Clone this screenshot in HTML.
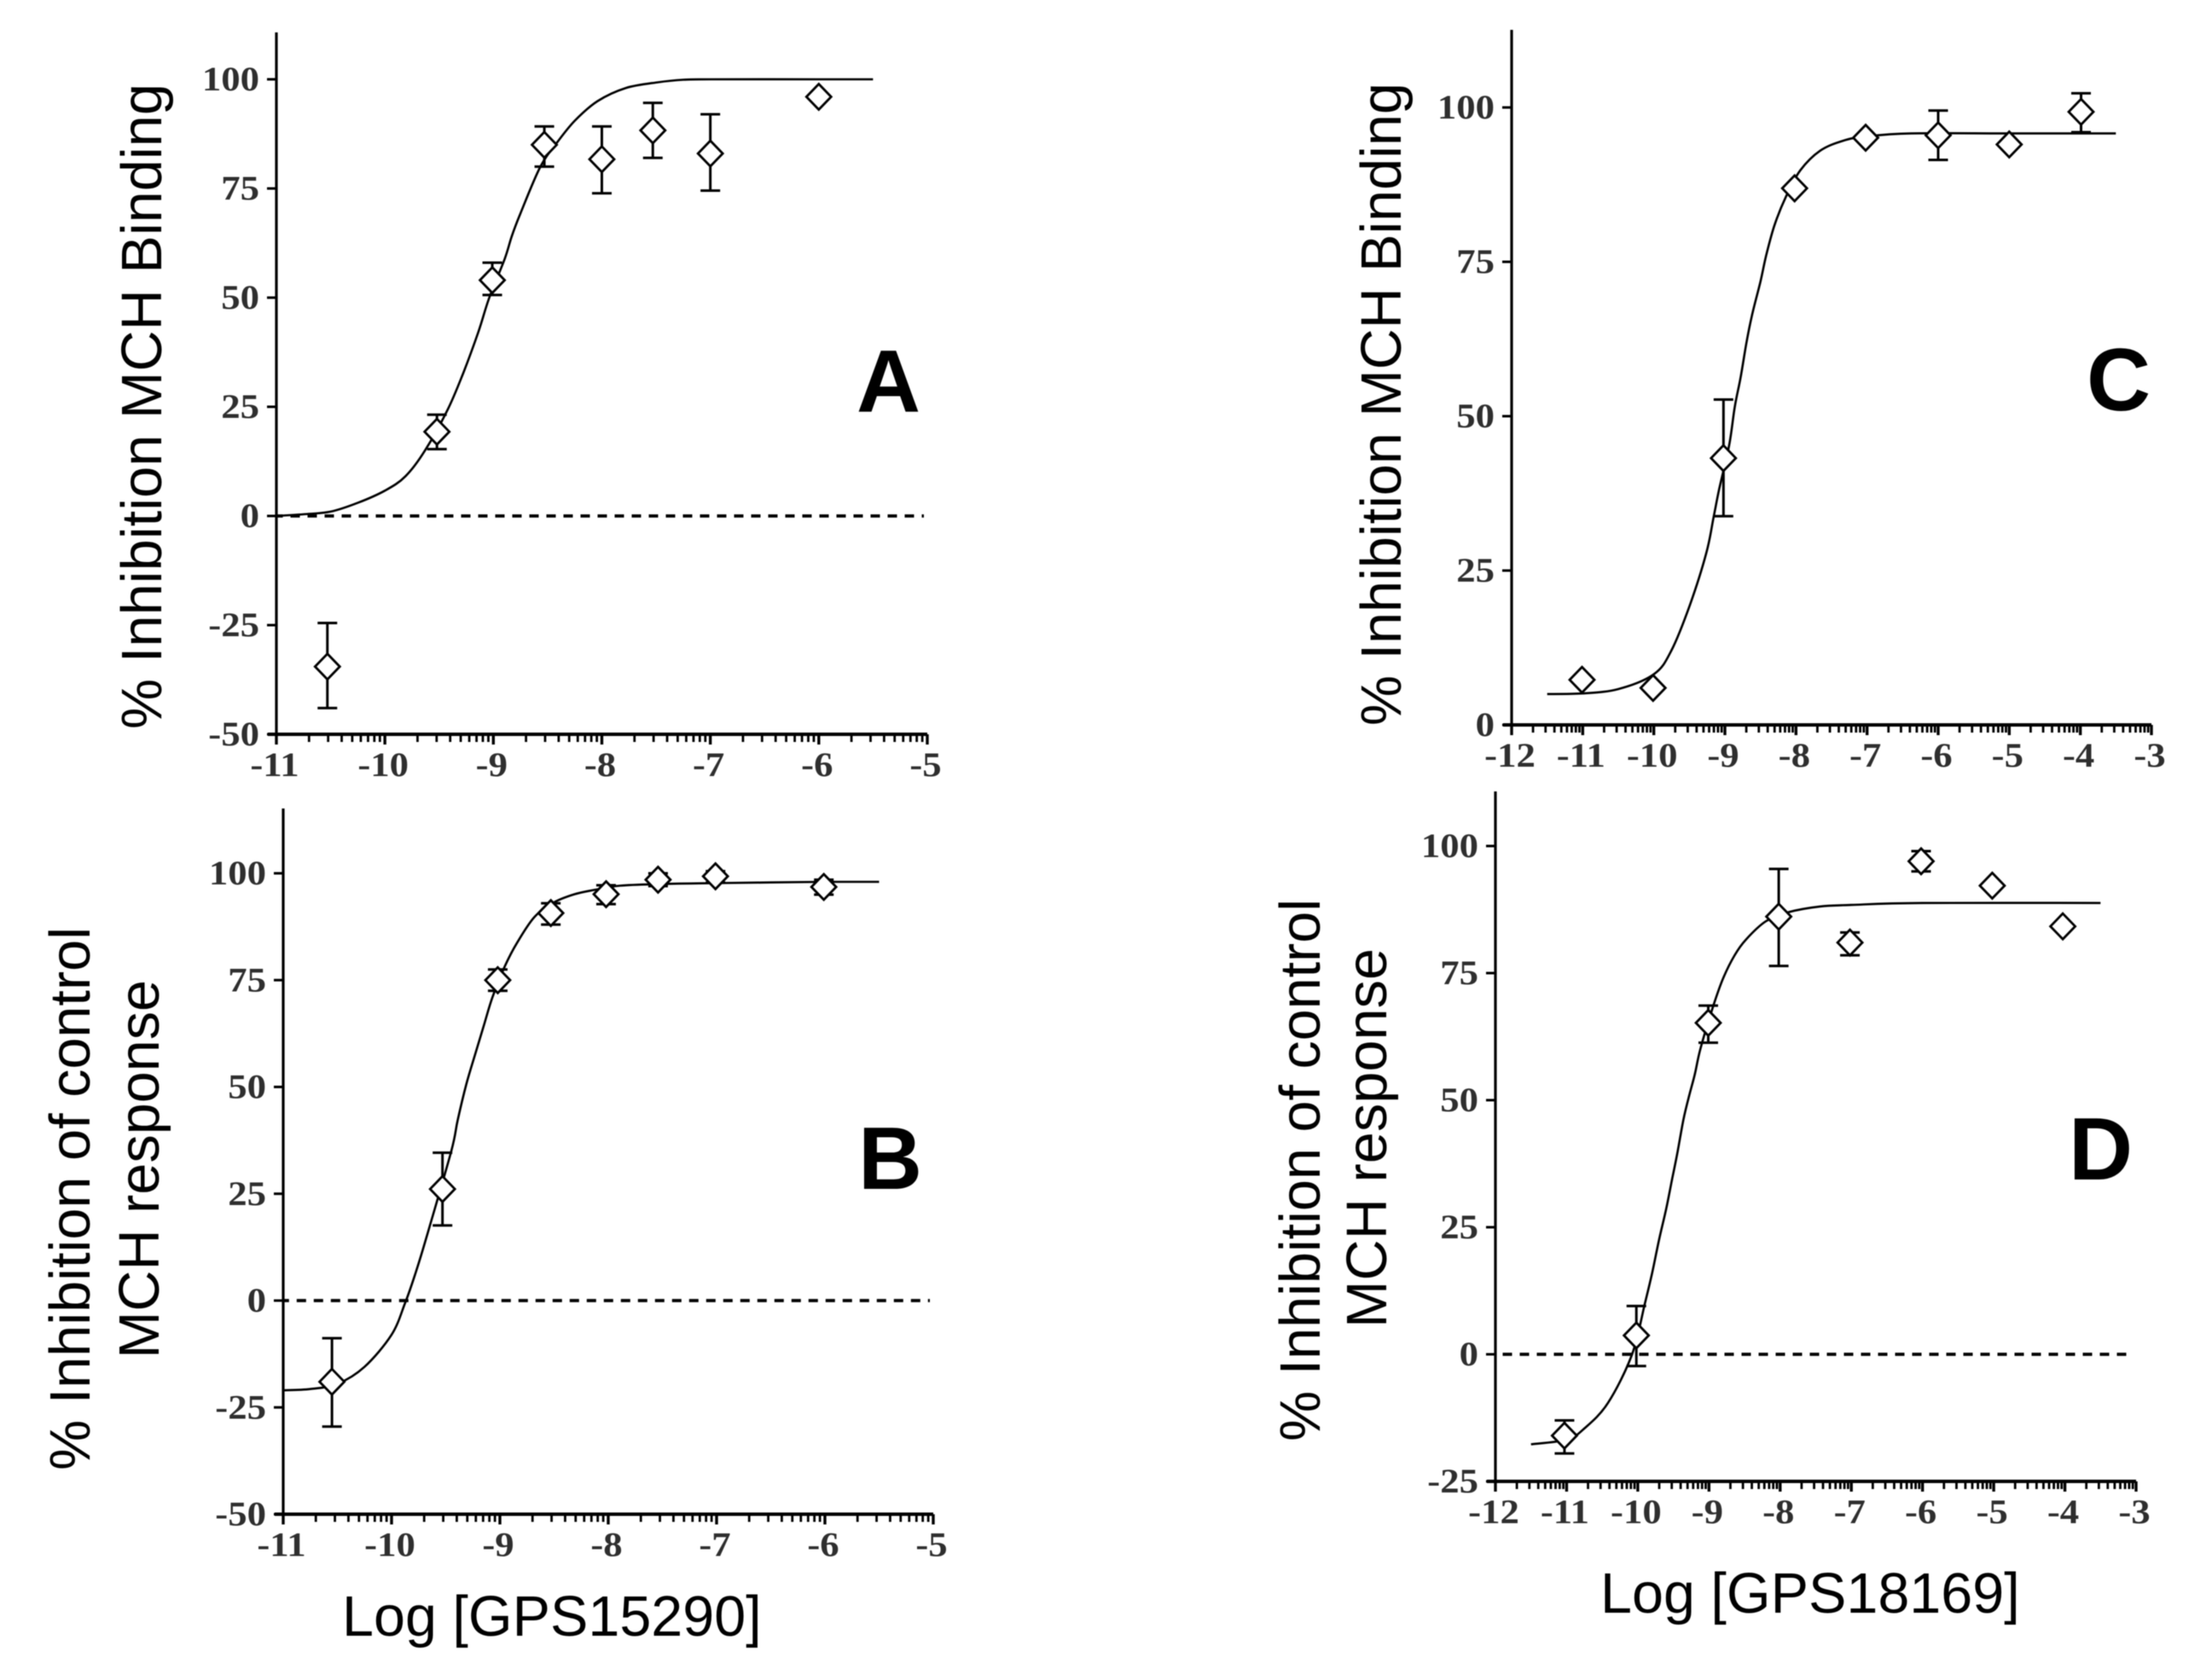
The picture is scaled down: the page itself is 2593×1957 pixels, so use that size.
<!DOCTYPE html>
<html>
<head>
<meta charset="utf-8">
<title>MCH inhibition dose-response curves</title>
<style>
html,body{margin:0;padding:0;background:#fff;width:2593px;height:1957px;overflow:hidden}
svg{display:block;filter:blur(0.6px)}
.tick{font-family:"Liberation Serif",serif;font-weight:bold;font-size:40px;fill:#2e2e2e}
.title{font-family:"Liberation Sans",sans-serif;font-size:66.5px;fill:#000}
.letter{font-family:"Liberation Sans",sans-serif;font-weight:bold;font-size:104px;fill:#000}
</style>
</head>
<body>
<svg id="figure" xmlns="http://www.w3.org/2000/svg" width="2593" height="1957" viewBox="0 0 2593 1957">
  <rect x="0" y="0" width="2593" height="1957" fill="#fff"/>
  <text class="title" transform="translate(189,855) rotate(-90)" textLength="757">% Inhibition MCH Binding</text>
  <text class="title" transform="translate(1642,851) rotate(-90)" textLength="754">% Inhibition MCH Binding</text>
  <text class="title" transform="translate(105,1724) rotate(-90)" textLength="637">% Inhibition of control</text>
  <text class="title" transform="translate(186,1593) rotate(-90)" textLength="444">MCH response</text>
  <text class="title" transform="translate(1547,1690) rotate(-90)" textLength="636">% Inhibition of control</text>
  <text class="title" transform="translate(1625,1557) rotate(-90)" textLength="445">MCH response</text>
  <text class="title" x="401" y="1918">Log [GPS15290]</text>
  <text class="title" x="1876" y="1891">Log [GPS18169]</text>
  <text class="letter" x="1004" y="483">A</text>
  <text class="letter" x="1006" y="1394">B</text>
  <text class="letter" x="2446" y="481">C</text>
  <text class="letter" x="2425" y="1383">D</text>
</svg>
<script>
// Panel A values
const aXTicks = [-11,-10,-9,-8,-7,-6,-5];
const aYTicks = [-50,-25,0,25,50,75,100];
const aDoses = [-10.53,-9.52,-9.01,-8.53,-8,-7.53,-7,-6];
const aMeans = [-34.5,19.3,54,85,81.7,88.3,83,96];
const aUpper = [-24.5,23.2,58,89.2,89.2,94.6,92,null];
const aLower = [-44,15.3,50.6,80,73.9,82,74.5,null];
const aCurveX = [-11,-10.75,-10.5,-10.25,-10,-9.81,-9.63,-9.42,-9.275,-9.14,-9.04,-8.895,-8.83,-8.75,-8.57,-8.42,-8.25,-8.04,-7.78,-7.49,-7.25,-7,-6,-5.5];
const aCurveY = [0,0.4,1,3,5.8,9.1,15,24.4,32.9,42,49.8,58.9,64.1,69.3,79.8,85.3,90.5,95,98,99.3,99.9,100,100,100];

// Panel B values
const bXTicks = [-11,-10,-9,-8,-7,-6,-5];
const bYTicks = [-50,-25,0,25,50,75,100];
const bDoses = [-10.55,-9.53,-9.02,-8.53,-8.02,-7.54,-7.01,-6.01];
const bMeans = [-19,26.1,75,90.7,95.1,98.5,99.3,96.8];
const bUpper = [-8.8,34.6,77.5,93,97.2,100,100.5,98.5];
const bLower = [-29.5,17.6,72.5,88,92.8,97,97.8,95];
const bCurveX = [-11,-10.75,-10.5,-10.25,-10,-9.874,-9.78,-9.68,-9.45,-9.39,-9.31,-9.23,-9.15,-9.07,-8.955,-8.84,-8.68,-8.5,-8.31,-8.13,-7.89,-7.5,-7,-6,-5.5];
const bCurveY = [-21,-20.7,-19.5,-15.5,-8,-0.5,6.3,14.6,34.9,42.2,50.6,57.5,64.2,70.9,78.2,83.8,89.8,93.2,95.1,96.1,97.1,97.5,97.7,98,98];

// Panel C values
const cXTicks = [-12,-11,-10,-9,-8,-7,-6,-5,-4,-3];
const cYTicks = [0,25,50,75,100];
const cDoses = [-11.01,-10.01,-9.02,-8.02,-7.02,-6,-5,-3.99];
const cMeans = [7.3,6,43.2,86.9,95.1,95.5,94,99.3];
const cUpper = [null,null,52.7,null,null,99.5,null,102.3];
const cLower = [null,null,33.8,null,null,91.5,null,96];
const cCurveX = [-11.5,-11,-10.5,-10,-9.755,-9.49,-9.26,-9.16,-9.08,-8.94,-8.86,-8.78,-8.7,-8.62,-8.5,-8.42,-8.3,-8.14,-7.94,-7.66,-7.34,-7.02,-6.38,-5,-3.5];
const cCurveY = [5,5.1,5.8,8.2,12,19.5,27.9,33.6,38.2,45.3,51.6,56.2,61.7,66.3,71.8,76,81,85.6,89.8,93,94.6,95.3,95.8,95.8,95.8];

// Panel D values
const dXTicks = [-12,-11,-10,-9,-8,-7,-6,-5,-4,-3];
const dYTicks = [-25,0,25,50,75,100];
const dDoses = [-11.03,-10.02,-9.01,-8.02,-7.02,-6.02,-5.02,-4.03];
const dMeans = [-16,3.7,65.2,86.1,81,97,92.2,84.2];
const dUpper = [-13,9.5,68.6,95.5,83,99,null,null];
const dLower = [-19.5,-2.3,61.3,76.4,78.5,95,null,null];
const dCurveX = [-11.5,-11,-10.76,-10.42,-10.08,-9.9,-9.8,-9.7,-9.6,-9.52,-9.44,-9.36,-9.28,-9.2,-9.12,-8.94,-8.8,-8.64,-8.48,-8.2,-7.88,-7.44,-7,-6,-3.5];
const dCurveY = [-17.7,-16.8,-14.7,-9.6,0,10,15.9,22.6,28.7,34.3,39.9,46.1,50.8,55,60.1,68.5,74,78.5,81.6,85.2,87,88.1,88.4,88.8,88.8];

const minorFractions = [0.301,0.477,0.602,0.699,0.778,0.845,0.903,0.954];
const NS = 'http://www.w3.org/2000/svg';
const root = document.getElementById('figure');

function line(parent, x1, y1, x2, y2, w) {
  const el = document.createElementNS(NS, 'line');
  el.setAttribute('x1', x1);
  el.setAttribute('y1', y1);
  el.setAttribute('x2', x2);
  el.setAttribute('y2', y2);
  el.setAttribute('stroke', '#000');
  el.setAttribute('stroke-width', w);
  parent.appendChild(el);
  return el;
}

function smoothPath(pts) {
  let d = 'M' + pts[0][0].toFixed(1) + ' ' + pts[0][1].toFixed(1);
  for (let i = 0; i < pts.length - 1; i++) {
    const p0 = pts[Math.max(i - 1, 0)], p1 = pts[i], p2 = pts[i + 1], p3 = pts[Math.min(i + 2, pts.length - 1)];
    const c1x = p1[0] + (p2[0] - p0[0]) / 6, c1y = p1[1] + (p2[1] - p0[1]) / 6;
    const c2x = p2[0] - (p3[0] - p1[0]) / 6, c2y = p2[1] - (p3[1] - p1[1]) / 6;
    d += ' C' + c1x.toFixed(1) + ' ' + c1y.toFixed(1) + ' ' + c2x.toFixed(1) + ' ' + c2y.toFixed(1) + ' ' + p2[0].toFixed(1) + ' ' + p2[1].toFixed(1);
  }
  return d;
}

function drawPanel(id, g, xTicks, yTicks, doses, means, upper, lower, curveX, curveY, showZero) {
  const xMin = xTicks[0], xMax = xTicks[xTicks.length - 1];
  const sx = v => g.left + (v - xMin) * (g.right - g.left) / (xMax - xMin);
  const sy = v => g.zero - v * (g.zero - g.hundred) / 100;
  const yBase = sy(yTicks[0]);

  const panel = document.createElementNS(NS, 'g');
  
  
  root.appendChild(panel);

  const yAxis = line(panel, g.left, g.top, g.left, yBase + 2, 3.2);
  
  
  const xAxis = line(panel, g.left - 10, yBase, g.right, yBase, 4);
  
  

  yTicks.forEach(v => {
    const t = line(panel, g.left - 11, sy(v), g.left, sy(v), 3);
    
    
    const txt = document.createElementNS(NS, 'text');
    txt.setAttribute('class', 'tick');
    txt.setAttribute('transform', 'translate(' + (g.left - 20) + ',' + (sy(v) + 13) + ') scale(1.12,1)');
    txt.setAttribute('text-anchor', 'end');
    txt.textContent = String(v);
    
    
    panel.appendChild(txt);
  });

  xTicks.forEach((v, i) => {
    const t = line(panel, sx(v), yBase, sx(v), yBase + 12, 3.4);
    
    
    if (i < xTicks.length - 1) {
      minorFractions.forEach(f => {
        const m = line(panel, sx(v + f), yBase, sx(v + f), yBase + 9, 2.8);
        
        
      });
    }
    const txt = document.createElementNS(NS, 'text');
    txt.setAttribute('class', 'tick');
    txt.setAttribute('transform', 'translate(' + (sx(v) - 2) + ',' + (yBase + 49) + ') scale(1.12,1)');
    txt.setAttribute('text-anchor', 'middle');
    txt.textContent = String(v);
    
    
    panel.appendChild(txt);
  });

  if (showZero) {
    const z = line(panel, g.left, sy(0), g.right - 4, sy(0), 3.8);
    z.setAttribute('stroke-dasharray', '11 9');
    z.setAttribute('stroke-dashoffset', g.dashOffset);
    
    
  }

  const curve = document.createElementNS(NS, 'path');
  curve.setAttribute('d', smoothPath(curveX.map((x, i) => [sx(x), sy(curveY[i])])));
  curve.setAttribute('fill', 'none');
  curve.setAttribute('stroke', '#000');
  curve.setAttribute('stroke-width', '2.6');
  
  
  panel.appendChild(curve);

  doses.forEach((x, i) => {
    const cx = sx(x), cy = sy(means[i]);
    if (upper[i] !== null) {
      const bar = line(panel, cx, sy(upper[i]), cx, sy(lower[i]), 3);
      
      
      const capU = line(panel, cx - 11.5, sy(upper[i]), cx + 11.5, sy(upper[i]), 3);
      
      
      const capL = line(panel, cx - 11.5, sy(lower[i]), cx + 11.5, sy(lower[i]), 3);
      
      
    }
    const d = document.createElementNS(NS, 'polygon');
    d.setAttribute('points', [[cx, cy - 15], [cx + 14.5, cy], [cx, cy + 15], [cx - 14.5, cy]].map(p => p[0].toFixed(1) + ',' + p[1].toFixed(1)).join(' '));
    d.setAttribute('fill', '#fff');
    d.setAttribute('stroke', '#000');
    d.setAttribute('stroke-width', '2.8');
    
    
    panel.appendChild(d);
  });
}

drawPanel('a', {left: 324, right: 1087, top: 38, zero: 605, hundred: 93, dashOffset: 3.5}, aXTicks, aYTicks, aDoses, aMeans, aUpper, aLower, aCurveX, aCurveY, true);
drawPanel('b', {left: 332, right: 1094, top: 948, zero: 1525, hundred: 1024, dashOffset: 4.2}, bXTicks, bYTicks, bDoses, bMeans, bUpper, bLower, bCurveX, bCurveY, true);
drawPanel('c', {left: 1772, right: 2522, top: 35, zero: 850, hundred: 126, dashOffset: 0}, cXTicks, cYTicks, cDoses, cMeans, cUpper, cLower, cCurveX, cCurveY, false);
drawPanel('d', {left: 1753, right: 2504, top: 928, zero: 1588, hundred: 992, dashOffset: 11.5}, dXTicks, dYTicks, dDoses, dMeans, dUpper, dLower, dCurveX, dCurveY, true);
</script>
</body>
</html>
